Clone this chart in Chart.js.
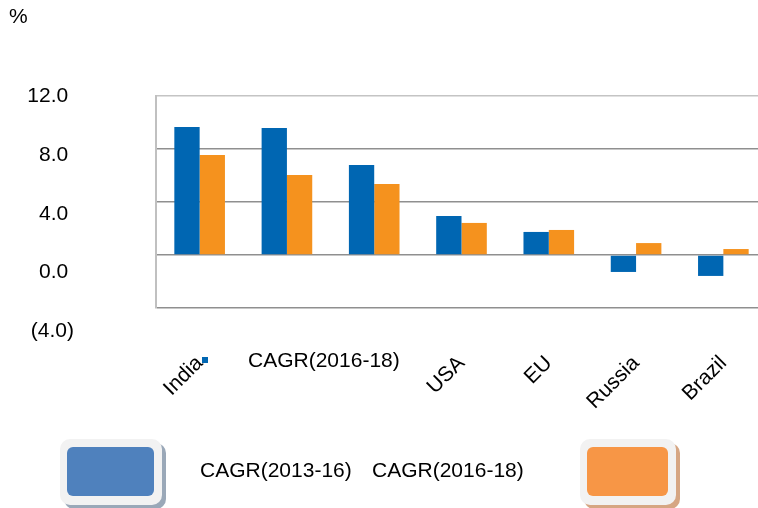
<!DOCTYPE html>
<html>
<head>
<meta charset="utf-8">
<script src="https://cdn.jsdelivr.net/npm/chart.js@4/dist/chart.umd.min.js"></script>
<style>
html, body { margin: 0; padding: 0; overflow: hidden; background: #fff; }
#grafico-wrap { width: 758px; height: 508px; overflow: hidden; }
</style>
</head>
<body>
<div id="grafico-wrap"><canvas id="grafico" width="767" height="508"></canvas></div>
<script>
// dados
const paises = ['India', '', '', 'USA', 'EU', 'Russia', 'Brazil']
const cagr1316 = [9.66, 9.58, 6.79, 2.94, 1.74, -1.28, -1.58]
const cagr1618 = [7.55, 6.04, 5.36, 2.42, 1.89, 0.90, 0.45]
const nomesSeries = ['CAGR(2013-16)', 'CAGR(2016-18)']
const ticksY = [12, 8, 4, 0, -4]

const fonte = '"Liberation Sans", Arial, sans-serif'
Chart.defaults.font.family = fonte
Chart.defaults.font.size = 21
Chart.defaults.color = '#000'

function caminhoArredondado(ctx, x, y, w, h, r) {
    ctx.beginPath()
    ctx.moveTo(x + r, y)
    ctx.arcTo(x + w, y, x + w, y + h, r)
    ctx.arcTo(x + w, y + h, x, y + h, r)
    ctx.arcTo(x, y + h, x, y, r)
    ctx.arcTo(x, y, x + w, y, r)
    ctx.closePath()
}

function caixa(ctx, x, y, w, h, cor, sombra) {
    ctx.fillStyle = sombra
    caminhoArredondado(ctx, x + 4, y + 4, w, h, 10)
    ctx.fill()
    ctx.fillStyle = '#f2f2f2'
    caminhoArredondado(ctx, x, y, w, h, 10)
    ctx.fill()
    ctx.fillStyle = cor
    caminhoArredondado(ctx, x + 7, y + 8, w - 15, h - 17, 6)
    ctx.fill()
}

/* legenda desenhada a mao, igual ao original */
const legendaCaixas = {
    id: 'legendaCaixas',
    afterDraw(chart) {
        const ctx = chart.ctx
        const ds = chart.data.datasets
        ctx.save()
        caixa(ctx, 60, 439, 102, 66, '#4f81bd', '#9aa8b8')
        caixa(ctx, 580, 439, 96, 66, '#f79646', '#d6a683')
        ctx.font = '21px ' + fonte
        ctx.fillStyle = '#000'
        ctx.textBaseline = 'middle'
        ctx.textAlign = 'left'
        ctx.fillText(ds[0].label, 200, 471)
        ctx.fillText(ds[1].label, 372, 471)
        // texto solto perto do eixo
        ctx.fillText(ds[1].label, 248, 361)
        ctx.fillStyle = ds[0].backgroundColor
        ctx.fillRect(202, 357, 6, 6)
        ctx.restore()
    }
}

const data = {
    labels: paises,
    datasets: [
        {
            label: nomesSeries[0],
            data: cagr1316,
            backgroundColor: '#0066b2',
            borderWidth: 0,
            categoryPercentage: 0.58,
            barPercentage: 1.0
        },
        {
            label: nomesSeries[1],
            data: cagr1618,
            backgroundColor: '#f5921e',
            borderWidth: 0,
            categoryPercentage: 0.58,
            barPercentage: 1.0
        }
    ]
}

const config = {
    type: 'bar',
    data: data,
    plugins: [legendaCaixas],
    options: {
        responsive: false,
        animation: false,
        devicePixelRatio: 1,
        layout: { padding: { left: 9, right: 0, top: 0, bottom: 0 } },
        plugins: {
            legend: { display: false },
            tooltip: { enabled: false },
            title: {
                display: true,
                text: '%',
                align: 'start',
                color: '#000',
                font: { size: 21, weight: 'normal' },
                padding: { top: 5, bottom: 65.8 }
            }
        },
        scales: {
            x: {
                grid: { display: false, drawTicks: false },
                border: { display: false },
                ticks: {
                    autoSkip: false,
                    minRotation: 45,
                    maxRotation: 45,
                    padding: 43,
                    font: { size: 21 }
                },
                afterFit: s => {
                    s.height = 200
                    s.paddingLeft = 0
                    s.paddingRight = 0
                }
            },
            y: {
                min: -4,
                max: 12,
                ticks: { display: false, stepSize: 4 },
                grid: {
                    drawTicks: false,
                    color: c => c.tick && c.tick.value === 12 ? '#c4c4c4' : '#8f8f8f',
                    lineWidth: 1.5
                },
                border: { display: true, color: '#c0c0c0', width: 2 },
                afterFit: s => { s.width = 0 }
            },
            yRotulos: {
                type: 'linear',
                position: 'left',
                weight: 1,
                min: -4,
                max: -4 + 212 / 14.67,
                grid: { display: false, drawTicks: false },
                border: { display: false },
                ticks: {
                    padding: 82,
                    labelOffset: 23.2,
                    font: { size: 21 },
                    callback: v => v < 0 ? '(' + Math.abs(v).toFixed(1) + ')' : v.toFixed(1) + ' '
                },
                afterBuildTicks: s => { s.ticks = ticksY.map(v => ({ value: v })) },
                afterFit: s => { s.width = 147 }
            }
        }
    }
}

let graf = document.querySelector('#grafico').getContext('2d')
let myChart = new Chart(graf, config)
</script>
</body>
</html>
